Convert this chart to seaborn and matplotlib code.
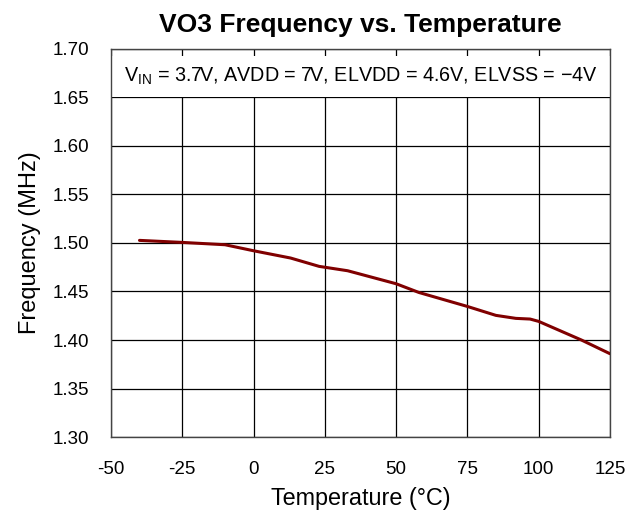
import matplotlib
matplotlib.use("Agg")
import matplotlib.pyplot as plt
import seaborn as sns
import pandas as pd
from matplotlib.patches import Rectangle

# Measured oscillator frequency across temperature
temperature_c = [-40, -25, -10, 0, 13, 23, 33, 50, 58, 75, 85, 92, 97, 100, 115, 125]
frequency_mhz = [1.5027, 1.5006, 1.4982, 1.4920, 1.4845, 1.4759, 1.4714, 1.4580,
                 1.4490, 1.4346, 1.4254, 1.4223, 1.4216, 1.4192, 1.4000, 1.3859]

x_ticks = [-50, -25, 0, 25, 50, 75, 100, 125]
y_ticks = [1.30, 1.35, 1.40, 1.45, 1.50, 1.55, 1.60, 1.65, 1.70]
y_tick_labels = ["1.30", "1.35", "1.40", "1.45", "1.50", "1.55", "1.60", "1.65", "1.70"]

conditions = "V$_{\\mathregular{IN}}$ = 3.7V, AVDD = 7V, ELVDD = 4.6V, ELVSS = \u22124V"

df = pd.DataFrame({"Temperature": temperature_c, "Frequency": frequency_mhz})

sns.set_theme(style="white")
plt.rcParams["font.family"] = ["Liberation Sans", "DejaVu Sans"]
plt.rcParams["text.color"] = "black"
plt.rcParams["axes.labelcolor"] = "black"
plt.rcParams["xtick.color"] = "black"
plt.rcParams["ytick.color"] = "black"

fig = plt.figure(figsize=(6.42, 5.2), dpi=100)
ax = fig.add_axes([0.1729, 0.1596, 0.7771, 0.7462])

sns.lineplot(data=df, x="Temperature", y="Frequency", ax=ax,
             color="#800000", linewidth=2.2, zorder=5)

ax.set_xlim(-50, 125)
ax.set_ylim(1.30, 1.70)
ax.set_xticks(x_ticks)
ax.set_xticklabels([str(t) for t in x_ticks])
ax.set_yticks(y_ticks)
ax.set_yticklabels(y_tick_labels)
ax.grid(True, color="black", linewidth=0.9, zorder=1)
ax.set_axisbelow(True)

for side in ["left", "bottom", "top", "right"]:
    ax.spines[side].set_color("#444444")
    ax.spines[side].set_linewidth(1.0)

ax.tick_params(axis="both", length=0, labelsize=13.5, labelcolor="black")
ax.tick_params(axis="y", pad=16)
ax.tick_params(axis="x", pad=17)

# Conditions banner across the top of the plot
ax.add_patch(Rectangle((-50, 1.6505), 175, 0.0425, facecolor="white",
                       edgecolor="none", zorder=2))
ax.text(37.5, 1.6715, conditions,
        ha="center", va="center", fontsize=14.2, color="black", zorder=3)

ax.set_xlabel("Temperature (°C)", fontsize=16.8, labelpad=7, color="black")
ax.set_ylabel("Frequency (MHz)", fontsize=17, labelpad=8, color="black")
ax.set_title("VO3 Frequency vs. Temperature", fontsize=19, fontweight="bold",
             pad=12, color="black")

fig.savefig("out.png", dpi=100)
